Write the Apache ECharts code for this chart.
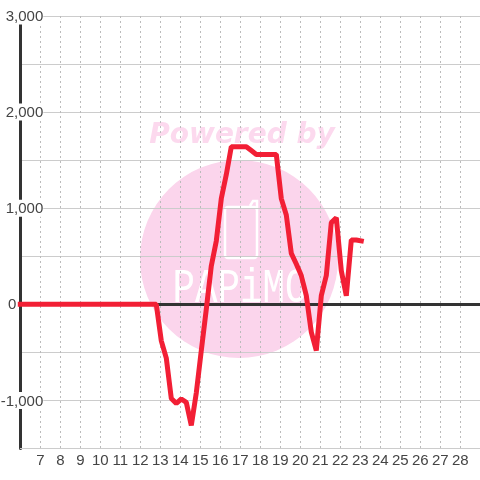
<!DOCTYPE html>
<html><head><meta charset="utf-8">
<style>html,body{margin:0;padding:0;background:#fff}#c{width:480px;height:480px}</style>
<script src="https://cdn.jsdelivr.net/npm/echarts@6/dist/echarts.min.js"></script>
</head><body><div id="c"></div>
<script>
const hours = [6,12.8,13.05,13.3,13.55,13.8,14.05,14.3,14.55,14.8,15.05,15.3,15.55,15.8,16.05,16.3,16.55,16.8,17.05,17.3,17.55,17.8,18.05,18.3,18.55,18.8,19.05,19.3,19.55,19.8,20.05,20.3,20.55,20.8,21.05,21.3,21.55,21.8,22.05,22.3,22.55,22.8,23.05];
const values = [0,0,-380,-560,-980,-1030,-985,-1020,-1260,-920,-480,-50,400,660,1100,1350,1640,1640,1640,1640,1600,1560,1560,1560,1560,1560,1100,930,530,420,300,90,-290,-480,90,300,850,900,350,90,670,670,660];
const yTicks = {min:-1500,max:3000,interval:500};
const fmt = v => v===0 ? '{z|0}' : (v%1000!==0 ? '' : '{n|'+v.toLocaleString('en-US')+'}');
const chart = echarts.init(document.getElementById('c'),null,{renderer:'canvas'});
const axisX = {type:'value',min:6,max:29,interval:1};
chart.setOption({
 animation:false,
 textStyle:{fontFamily:'Liberation Sans'},
 grid:{left:20.3,right:-0.3,top:16,bottom:31.5,containLabel:false,outerBoundsMode:'none'},
 graphic:[
  {type:'circle',z:-10,shape:{cx:239,cy:259,r:99},style:{fill:'#fbd5ec'}},
  {type:'text',z:-10,style:{x:242,y:136,text:'Powered by',font:'italic bold 28px "DejaVu Sans"',fill:'#fcd9ee',align:'center',verticalAlign:'middle'}},
  {type:'rect',z:-9,shape:{x:225,y:207,width:32,height:51,r:3},style:{fill:'none',stroke:'#fff',lineWidth:2.5}},
  {type:'polyline',z:-9,shape:{points:[[250,206],[253,201],[257,201],[257,210]]},style:{fill:'none',stroke:'#fff',lineWidth:2.5}},
  {type:'text',z:-9,x:240,y:289,scaleX:0.78,style:{x:0,y:0,text:'PAPiMO',font:'48px "Liberation Mono"',fill:'#fff',align:'center',verticalAlign:'middle'}}
 ],
 xAxis:[
  Object.assign({},axisX,{position:'bottom',axisLine:{onZero:false,lineStyle:{color:'#ccc',width:1}},axisTick:{show:false},
   axisLabel:{color:'#444',fontSize:15,margin:5,showMinLabel:false,showMaxLabel:false},
   splitLine:{show:true,showMinLine:false,showMaxLine:false,lineStyle:{color:'#bbb',type:[2,3],width:1}}}),
  Object.assign({},axisX,{position:'bottom',axisLine:{onZero:true,lineStyle:{color:'#333',width:3}},axisTick:{show:false},axisLabel:{show:false},splitLine:{show:false}})
 ],
 yAxis:Object.assign({type:'value'},yTicks,{
  axisLine:{show:true,lineStyle:{color:'#333',width:3}},axisTick:{show:false},
  axisLabel:{inside:false,margin:-23,align:'right',formatter:fmt,showMinLabel:false,
   rich:{n:{color:'#444',fontSize:15,backgroundColor:'#fff',padding:[2,0,0,0]},z:{color:'#444',fontSize:15,padding:[2,27,0,0]}}},
  splitLine:{show:true,lineStyle:{color:'#ccc',width:1}}}),
 series:[{type:'line',xAxisIndex:0,data:hours.map((h,i)=>[h,values[i]]),showSymbol:false,symbol:'none',clip:false,
  lineStyle:{color:'#f21f35',width:5,join:'bevel',cap:'square'}}]
});
</script></body></html>
